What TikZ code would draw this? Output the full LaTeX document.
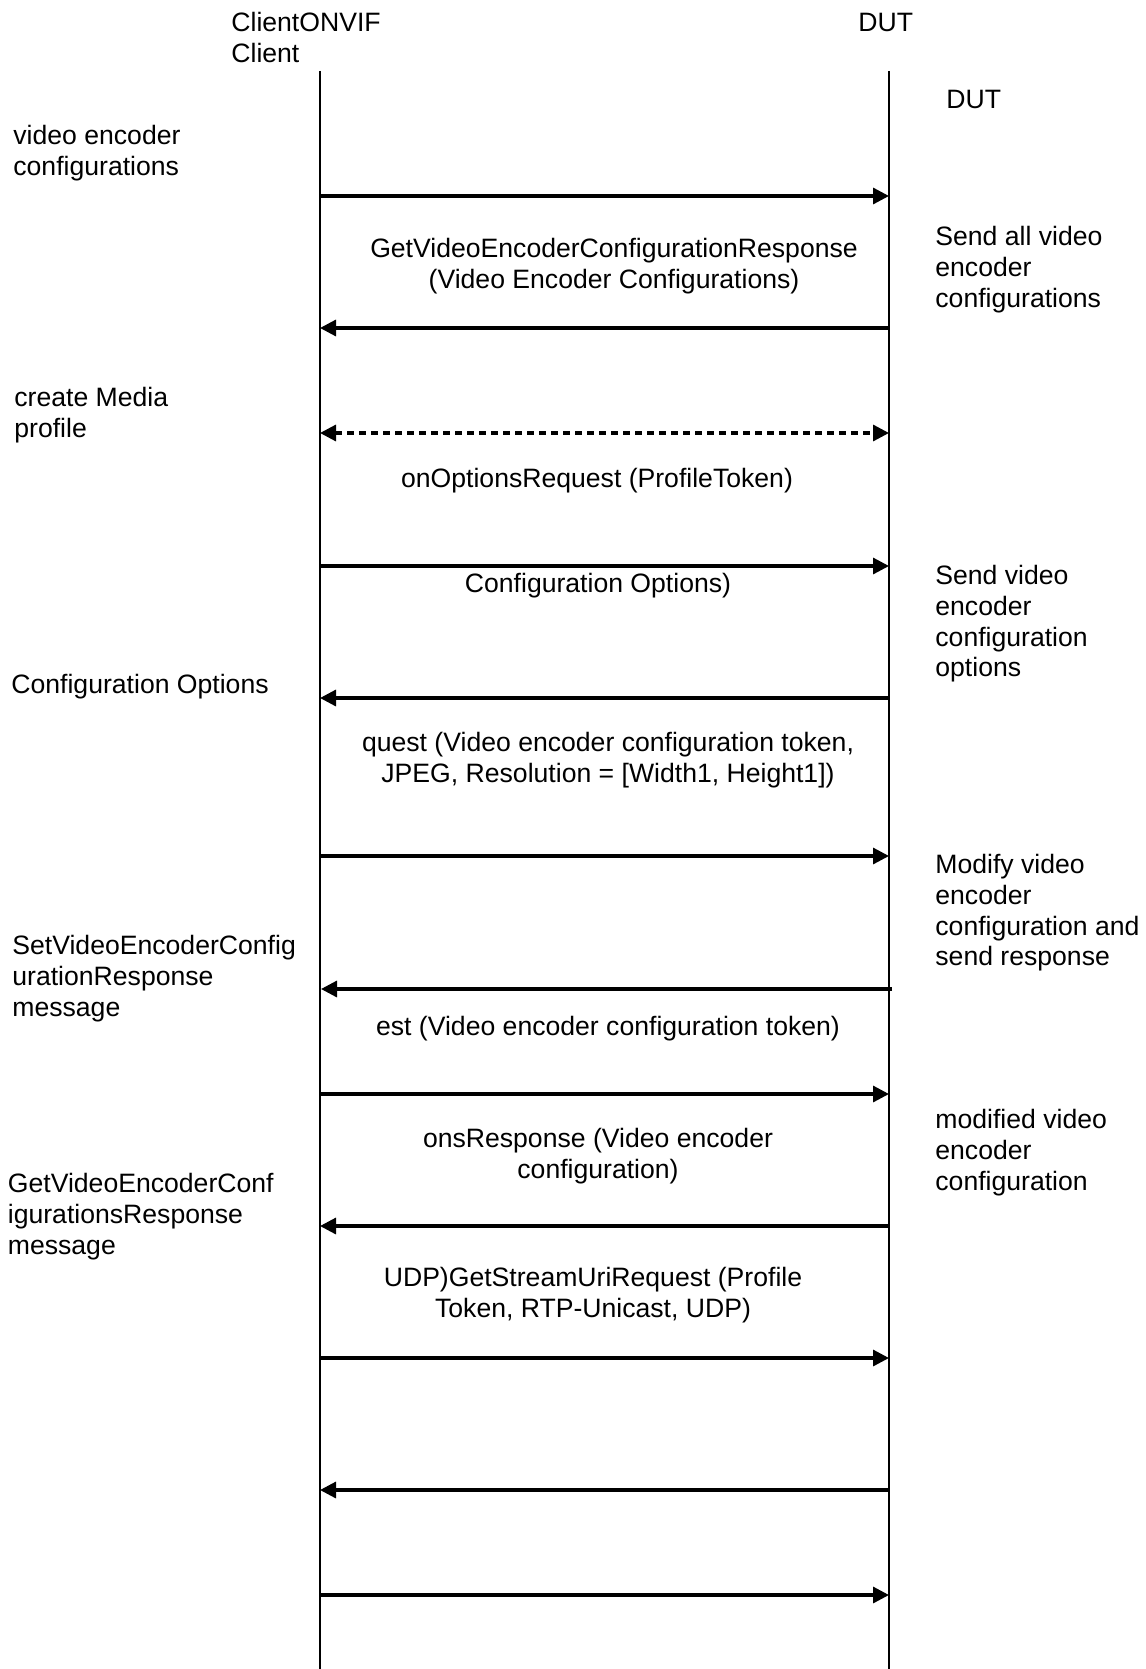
\documentclass[tikz,border=0pt]{standalone}
\usepackage{fontspec}
\setmainfont{Liberation Sans}
\usetikzlibrary{arrows.meta}
\tikzset{
  lbl/.style={inner sep=0pt, font=\fontsize{13.3pt}{15.4pt}\selectfont},
  lleft/.style={lbl, anchor=base west, align=left},
  lmid/.style={lbl, anchor=base, align=center},
  life/.style={line width=1pt, draw=black},
  msg/.style={line width=1.6pt, -{Triangle[length=8pt,width=8pt]}},
  dmsg/.style={line width=1.6pt, {Triangle[length=8pt,width=8pt]}-{Triangle[length=8pt,width=8pt]}, dash pattern=on 3.5pt off 2.5pt}
}
\begin{document}
\begin{tikzpicture}[x=0.5pt,y=-0.5pt]
\useasboundingbox (0,0) rectangle (1145,1669);
% lifelines
\coordinate (Ltop) at (320,71);
\coordinate (Lbot) at (320,1669);
\coordinate (Rtop) at (889,71);
\coordinate (Rbot) at (889,1669);
\draw[life] (Ltop) -- (Lbot);
\draw[life] (Rtop) -- (Rbot);
% headers (y = baseline of last line)
\node[lleft] (client) at (231,62.3) {ClientONVIF\\Client};
\node[lleft] (dut) at (858,31.5) {DUT};
\node[lleft] (dut2) at (946,108.5) {DUT};
% left notes
\node[lleft] (n1) at (13,175.3) {video encoder\\configurations};
\node[lleft] (n2) at (14,437.3) {create Media\\profile};
\node[lleft] (n3) at (11,693.5) {Configuration Options};
\node[lleft] (n4) at (12,1016.1) {SetVideoEncoderConfig\\urationResponse\\message};
\node[lleft] (n5) at (7.5,1254.1) {GetVideoEncoderConf\\igurationsResponse\\message};
% right notes
\node[lleft] (r1) at (935,307.1) {Send all video\\encoder\\configurations};
\node[lleft] (r2) at (935,676.9) {Send video\\encoder\\configuration\\options};
\node[lleft] (r3) at (935,965.9) {Modify video\\encoder\\configuration and\\send response};
\node[lleft] (r4) at (935,1190.1) {modified video\\encoder\\configuration};
% message labels
\node[lmid] (m1) at (614,288.3) {GetVideoEncoderConfigurationResponse\\(Video Encoder Configurations)};
\node[lmid] (m2) at (597,487.5) {onOptionsRequest (ProfileToken)};
\node[lmid] (m3) at (598,592.5) {Configuration Options)};
\node[lmid] (m4) at (608,782.3) {quest (Video encoder configuration token,\\JPEG, Resolution = [Width1, Height1])};
\node[lmid] (m5) at (608,1035.5) {est (Video encoder configuration token)};
\node[lmid] (m6) at (598,1178.3) {onsResponse (Video encoder\\configuration)};
\node[lmid] (m7) at (593,1317.3) {UDP)GetStreamUriRequest (Profile\\Token, RTP-Unicast, UDP)};
% message endpoints
\coordinate (a1L) at (320,196);  \coordinate (a1R) at (889,196);
\coordinate (a2L) at (320,328);  \coordinate (a2R) at (889,328);
\coordinate (a3L) at (320,433);  \coordinate (a3R) at (889,433);
\coordinate (a4L) at (320,566);  \coordinate (a4R) at (889,566);
\coordinate (a5L) at (320,698);  \coordinate (a5R) at (889,698);
\coordinate (a6L) at (320,856);  \coordinate (a6R) at (889,856);
\coordinate (a7L) at (321,989);  \coordinate (a7R) at (892,989);
\coordinate (a8L) at (320,1094); \coordinate (a8R) at (889,1094);
\coordinate (a9L) at (320,1226); \coordinate (a9R) at (889,1226);
\coordinate (a10L) at (320,1358); \coordinate (a10R) at (889,1358);
\coordinate (a11L) at (320,1490); \coordinate (a11R) at (889,1490);
\coordinate (a12L) at (320,1595); \coordinate (a12R) at (889,1595);
% messages
\draw[msg] (a1L) -- (a1R);
\draw[msg] (a2R) -- (a2L);
\draw[dmsg] (a3L) -- (a3R);
\draw[msg] (a4L) -- (a4R);
\draw[msg] (a5R) -- (a5L);
\draw[msg] (a6L) -- (a6R);
\draw[msg] (a7R) -- (a7L);
\draw[msg] (a8L) -- (a8R);
\draw[msg] (a9R) -- (a9L);
\draw[msg] (a10L) -- (a10R);
\draw[msg] (a11R) -- (a11L);
\draw[msg] (a12L) -- (a12R);
\end{tikzpicture}
\end{document}
